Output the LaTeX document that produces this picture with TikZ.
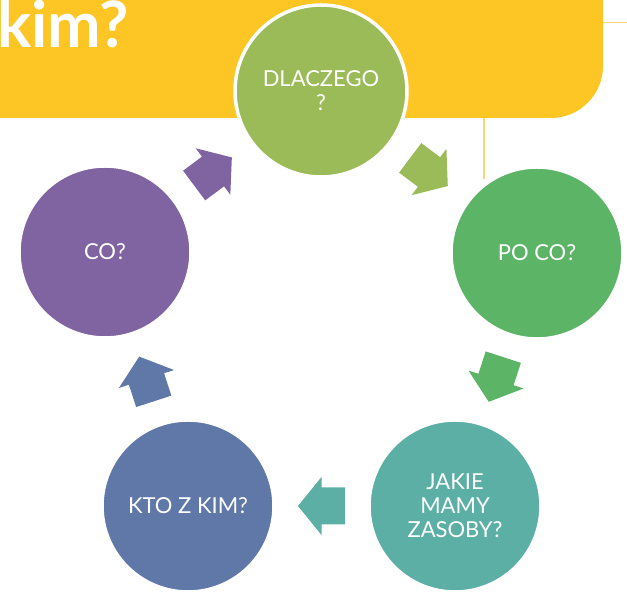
\documentclass[tikz,border=0pt]{standalone}
\usepackage{fontspec}
\setmainfont{Lato}
\usetikzlibrary{calc}
\definecolor{banner}{HTML}{FDC624}
\definecolor{bline}{HTML}{FCD677}
\definecolor{dlc}{HTML}{9BBB59}
\definecolor{poc}{HTML}{5CB466}
\definecolor{jac}{HTML}{5BAFA5}
\definecolor{ktc}{HTML}{5F78A8}
\definecolor{coc}{HTML}{8064A2}
\tikzset{
  circ/.style={circle, minimum size=172pt, inner sep=0pt, draw=white, line width=3.5pt,
    text=white, align=center, font=\fontsize{22}{24}\selectfont},
  blockarrow/.pic={\fill[pic actions] (-23.5,-18.5) -- (0,-18.5) -- (0,-29) -- (23.5,0)
    -- (0,29) -- (0,18.5) -- (-23.5,18.5) -- cycle;}
}
\begin{document}
\begin{tikzpicture}[x=1pt,y=1pt]
\useasboundingbox (0,0) rectangle (627,593);
\clip (0,0) rectangle (627,593);
% banner
\fill[banner] (-20,475) -- (551,475) arc[start angle=-90, end angle=0, radius=52]
  -- (603,620) -- (-20,620) -- cycle;
\node[anchor=base west, text=white, font=\fontsize{64}{68}\selectfont\bfseries, inner sep=0pt]
  (title) at (-3,545) {kim?};
\coordinate (h1) at (603,570.5);
\coordinate (h2) at (630,570.5);
\coordinate (v1) at (484,475);
\coordinate (v2) at (484,414);
\draw[bline, line width=1.8pt] (h1) -- (h2);
\draw[bline, line width=1.8pt] (v1) -- (v2);
% circles
\node[circ, fill=dlc] (dl) at (321,502) {DLACZEGO\\?};
\node[circ, fill=poc] (po) at (537,340) {PO CO?};
\node[circ, fill=jac] (ja) at (455,87) {JAKIE\\MAMY\\ZASOBY?};
\node[circ, fill=ktc] (kt) at (188,87) {KTO Z KIM?};
\node[circ, fill=coc] (co) at (105,341) {CO?};
% arrows
\pic[fill=dlc, rotate=-36.9] at ($(dl)!0.5!(po)$) {blockarrow};
\pic[fill=poc, rotate=-108] at ($(po)!0.5!(ja)$) {blockarrow};
\pic[fill=jac, rotate=180] at ($(ja)!0.5!(kt)$) {blockarrow};
\pic[fill=ktc, rotate=108] at ($(kt)!0.5!(co)$) {blockarrow};
\pic[fill=coc, rotate=36.7] at ($(co)!0.5!(dl)$) {blockarrow};
\end{tikzpicture}
\end{document}
